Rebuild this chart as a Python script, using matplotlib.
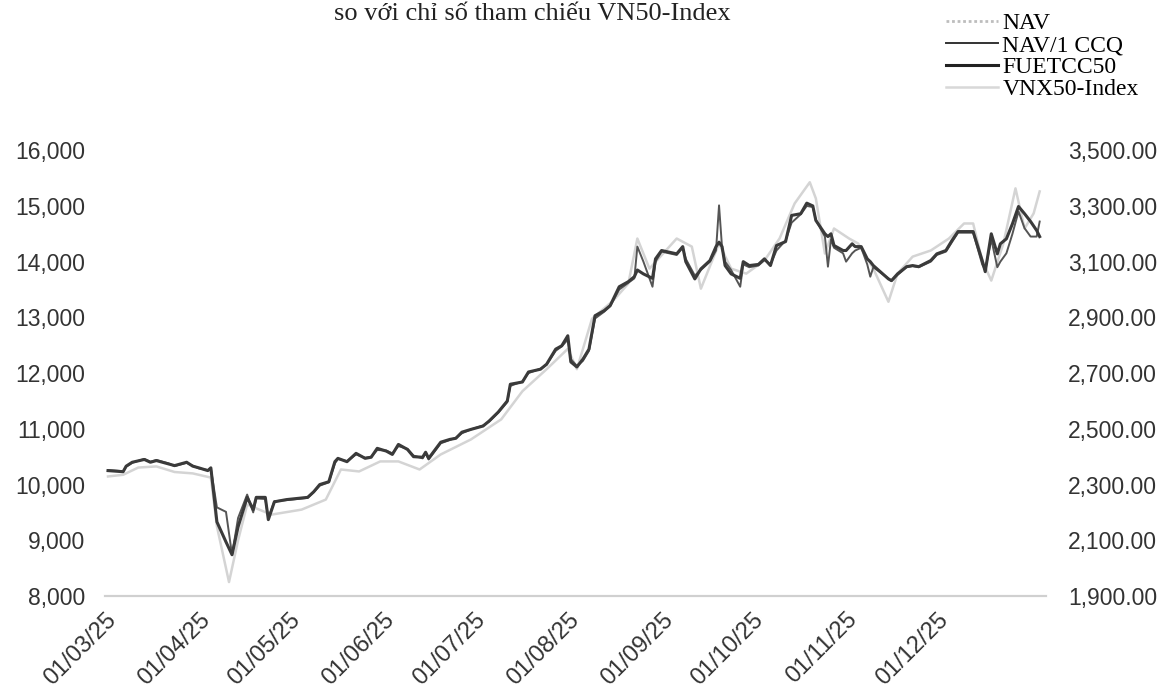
import matplotlib
matplotlib.use("Agg")
import matplotlib.pyplot as plt
import matplotlib.dates as mdates
from matplotlib.lines import Line2D
from matplotlib.ticker import FuncFormatter
from matplotlib.transforms import ScaledTranslation
import pandas as pd

# Ngày giao dịch (đọc gần đúng từ biểu đồ)
dates = [
    "2025-02-26", "2025-03-03", "2025-03-04", "2025-03-06", "2025-03-10", "2025-03-12",
    "2025-03-14", "2025-03-18", "2025-03-20", "2025-03-24", "2025-03-26", "2025-03-28",
    "2025-03-31", "2025-04-01", "2025-04-03", "2025-04-06", "2025-04-08", "2025-04-10",
    "2025-04-13", "2025-04-15", "2025-04-16", "2025-04-19", "2025-04-20", "2025-04-22",
    "2025-04-26", "2025-05-03", "2025-05-05", "2025-05-07", "2025-05-10", "2025-05-12",
    "2025-05-13", "2025-05-16", "2025-05-19", "2025-05-22", "2025-05-24", "2025-05-26",
    "2025-05-29", "2025-05-31", "2025-06-02", "2025-06-05", "2025-06-07", "2025-06-10",
    "2025-06-11", "2025-06-12", "2025-06-16", "2025-06-19", "2025-06-21", "2025-06-23",
    "2025-06-26", "2025-06-30", "2025-07-02", "2025-07-05", "2025-07-08", "2025-07-09",
    "2025-07-13", "2025-07-15", "2025-07-19", "2025-07-21", "2025-07-24", "2025-07-26",
    "2025-07-28", "2025-07-29", "2025-07-31", "2025-08-02", "2025-08-04", "2025-08-06",
    "2025-08-09", "2025-08-11", "2025-08-14", "2025-08-17", "2025-08-19", "2025-08-20",
    "2025-08-22", "2025-08-25", "2025-08-26", "2025-08-28", "2025-09-02", "2025-09-04",
    "2025-09-05", "2025-09-08", "2025-09-10", "2025-09-13", "2025-09-15", "2025-09-16",
    "2025-09-17", "2025-09-18", "2025-09-20", "2025-09-23", "2025-09-24", "2025-09-26",
    "2025-09-29", "2025-10-01", "2025-10-03", "2025-10-05", "2025-10-08", "2025-10-10",
    "2025-10-13", "2025-10-15", "2025-10-17", "2025-10-18", "2025-10-21", "2025-10-22",
    "2025-10-23", "2025-10-24", "2025-10-27", "2025-10-28", "2025-10-30", "2025-10-31",
    "2025-11-02", "2025-11-04", "2025-11-05", "2025-11-06", "2025-11-11", "2025-11-12",
    "2025-11-14", "2025-11-17", "2025-11-19", "2025-11-21", "2025-11-25", "2025-11-27",
    "2025-11-30", "2025-12-02", "2025-12-04", "2025-12-09", "2025-12-12", "2025-12-13",
    "2025-12-15", "2025-12-17", "2025-12-18", "2025-12-20", "2025-12-22", "2025-12-24",
    "2025-12-26", "2025-12-28", "2025-12-30", "2025-12-31",
]

fuetcc50 = [
    10250, 10230, 10330, 10400, 10450, 10400, 10430, 10370, 10340, 10400, 10330, 10300,
    10250, 10300, 9330, 8970, 8740, 9240, 9770, 9550, 9770, 9770, 9370, 9690,
    9730, 9770, 9870, 10000, 10050, 10410, 10470, 10410, 10560, 10470, 10490, 10650,
    10600, 10540, 10720, 10630, 10500, 10490, 10580, 10470, 10760, 10810, 10830, 10940,
    10990, 11050, 11140, 11300, 11500, 11800, 11840, 12020, 12070, 12160, 12430, 12490,
    12670, 12200, 12110, 12250, 12430, 13030, 13120, 13210, 13550, 13640, 13730, 13850,
    13780, 13700, 14050, 14200, 14140, 14270, 14000, 13690, 13870, 14020, 14270, 14350,
    14270, 13930, 13780, 13700, 14000, 13930, 13950, 14050, 13930, 14290, 14360, 14830,
    14860, 15050, 15000, 14740, 14500, 14450, 14500, 14290, 14200, 14200, 14320, 14270,
    14270, 14050, 14000, 13930, 13690, 13660, 13780, 13910, 13930, 13910, 14020, 14140,
    14200, 14380, 14540, 14540, 14020, 13820, 14500, 14140, 14320, 14410, 14680, 14990,
    14860, 14720, 14560, 14450,
]

nav_ccq = [
    10260, 10240, 10320, 10390, 10460, 10410, 10440, 10380, 10330, 10390, 10340, 10290,
    10260, 10290, 9590, 9510, 8740, 9400, 9820, 9500, 9750, 9740, 9400, 9700,
    9720, 9760, 9860, 9980, 10040, 10380, 10460, 10420, 10540, 10480, 10500, 10620,
    10610, 10560, 10690, 10640, 10520, 10470, 10560, 10450, 10740, 10800, 10840, 10920,
    10990, 11060, 11130, 11290, 11480, 11770, 11850, 12000, 12080, 12150, 12400, 12480,
    12600, 12250, 12130, 12220, 12400, 12980, 13100, 13200, 13500, 13620, 13700, 14270,
    14000, 13550, 14000, 14180, 14120, 14250, 14050, 13750, 13850, 14000, 14200, 15010,
    14250, 14000, 13850, 13550, 13950, 13900, 13930, 14030, 13950, 14200, 14380, 14700,
    14850, 15000, 14980, 14750, 14450, 13910, 14400, 14250, 14150, 14000, 14150, 14200,
    14250, 13950, 13730, 13900, 13700, 13650, 13760, 13900, 13920, 13900, 14000, 14120,
    14180, 14350, 14520, 14520, 13950, 13850, 14400, 13900, 14000, 14150, 14500, 14900,
    14600, 14450, 14450, 14720,
]

vnx_dates = [
    "2025-02-26", "2025-03-03", "2025-03-08", "2025-03-14", "2025-03-20", "2025-03-26",
    "2025-04-01", "2025-04-03", "2025-04-07", "2025-04-10", "2025-04-13", "2025-04-21",
    "2025-05-01", "2025-05-09", "2025-05-14", "2025-05-20", "2025-05-27", "2025-06-02",
    "2025-06-09", "2025-06-16", "2025-06-26", "2025-07-06", "2025-07-13", "2025-07-21",
    "2025-07-28", "2025-07-31", "2025-08-05", "2025-08-12", "2025-08-17", "2025-08-20",
    "2025-08-24", "2025-09-02", "2025-09-07", "2025-09-10", "2025-09-16", "2025-09-20",
    "2025-09-25", "2025-10-01", "2025-10-06", "2025-10-11", "2025-10-16", "2025-10-18",
    "2025-10-21", "2025-10-24", "2025-10-29", "2025-11-01", "2025-11-06", "2025-11-11",
    "2025-11-14", "2025-11-19", "2025-11-25", "2025-12-01", "2025-12-06", "2025-12-09",
    "2025-12-12", "2025-12-15", "2025-12-19", "2025-12-23", "2025-12-26", "2025-12-29",
    "2025-12-31",
]

vnx50 = [
    2329, 2335, 2361, 2365, 2345, 2340,
    2325, 2150, 1950, 2100, 2228, 2192,
    2210, 2246, 2354, 2347, 2383, 2383,
    2354, 2408, 2462, 2534, 2635, 2714,
    2787, 2714, 2895, 2960, 3021, 3183,
    3075, 3183, 3154, 3003, 3165, 3075,
    3057, 3104, 3183, 3309, 3385, 3327,
    3129, 3219, 3183, 3165, 3075, 2956,
    3057, 3118, 3140, 3183, 3237, 3237,
    3104, 3032, 3165, 3363, 3219, 3273,
    3352,
]

left_ticks = list(range(8000, 16001, 1000))
right_ticks = list(range(1900, 3501, 200))
labels = ["NAV", "NAV/1 CCQ", "FUETCC50", "VNX50-Index"]
title = "so với chỉ số tham chiếu VN50-Index"

d = pd.to_datetime(dates)
dv = pd.to_datetime(vnx_dates)

fig = plt.figure(figsize=(11.73, 6.89), dpi=100)
ax = fig.add_axes([0.0895, 0.135, 0.802, 0.647])
ax2 = ax.twinx()

ax2.plot(dv, vnx50, color="#d4d4d4", lw=1.8)
ax.plot(d, nav_ccq, color="#555555", lw=1.4)
ax.plot(d, fuetcc50, color="#3a3a3a", lw=2.2)

# trục chính vẽ đè lên trục phụ
ax.set_zorder(ax2.get_zorder() + 1)
ax.patch.set_visible(False)

ax.set_ylim(8000, 16000)
ax.set_yticks(left_ticks)
ax.yaxis.set_major_formatter(FuncFormatter(lambda v, p: f"{v:,.0f}"))
ax2.set_ylim(1900, 3500)
ax2.set_yticks(right_ticks)
ax2.yaxis.set_major_formatter(FuncFormatter(lambda v, p: f"{v:,.2f}"))

ax.set_xlim(pd.Timestamp("2025-02-25"), pd.Timestamp("2026-01-02"))
ax.xaxis.set_major_locator(mdates.MonthLocator(bymonth=range(3, 13)))
ax.xaxis.set_major_formatter(mdates.DateFormatter("%d/%m/%y"))

for a in (ax, ax2):
    for s in ("top", "left", "right"):
        a.spines[s].set_visible(False)
    a.spines["bottom"].set_color("#d0d0d0")
    a.spines["bottom"].set_linewidth(1.5)
    a.tick_params(axis="y", length=0, labelsize=16.5, labelcolor="#333333")
    for t in a.get_yticklabels():
        t.set_family("Liberation Sans")
ax.tick_params(axis="y", pad=14)
ax2.tick_params(axis="y", pad=16)
ax.tick_params(axis="x", length=0, labelsize=17, labelcolor="#333333", pad=9)

# nhãn ngày xoay 45°, dịch sang trái như bản gốc
shift = ScaledTranslation(-12 / 100, 0, fig.dpi_scale_trans)
for t in ax.get_xticklabels():
    t.set_rotation(45)
    t.set_ha("right")
    t.set_rotation_mode("anchor")
    t.set_family("Liberation Sans")
    t.set_transform(t.get_transform() + shift)

fig.text(532 / 1173, 1 - 14 / 689, title, ha="center", va="center",
         family="Liberation Serif", fontsize=19, color="#222222")

handles = [
    Line2D([], [], color="#bdbdbd", lw=2, ls=(0, (1, 1))),
    Line2D([], [], color="#333333", lw=1.4),
    Line2D([], [], color="#222222", lw=2.2),
    Line2D([], [], color="#d8d8d8", lw=1.8),
]
fig.legend(handles, labels, loc="upper left", bbox_to_anchor=(934 / 1173, 1 - 1 / 689),
           frameon=False, prop={"family": "Liberation Serif", "size": 17},
           handlelength=2.2, handletextpad=0.2, labelspacing=0.02, borderpad=0)

fig.savefig("out.png", dpi=100)
